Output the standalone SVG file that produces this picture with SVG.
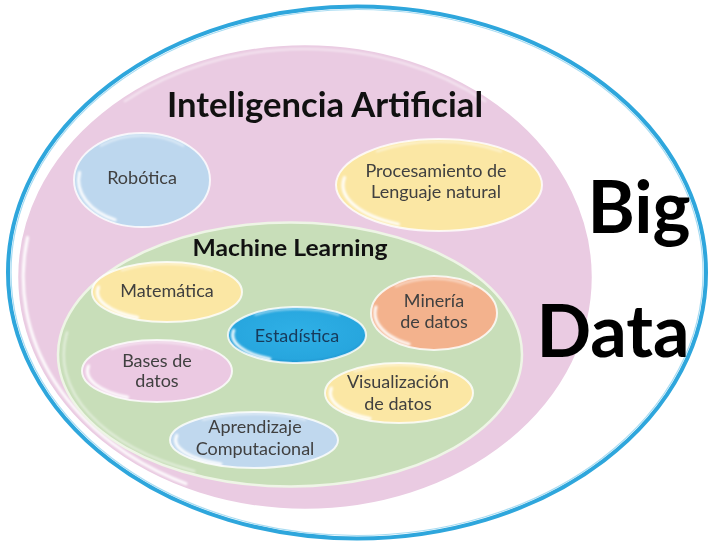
<svg xmlns="http://www.w3.org/2000/svg" xmlns:xlink="http://www.w3.org/1999/xlink" width="713" height="543" viewBox="0 0 713 543">
  <style>
    .lbl { font-family: Lato, "Open Sans", "Liberation Sans", sans-serif; font-size: 18px; fill: #404040; text-anchor: middle; }
    .ttl { font-family: Lato, "Open Sans", "Liberation Sans", sans-serif; font-weight: 700; fill: #111; text-anchor: middle; }
    .big { font-family: Lato, "Open Sans", "Liberation Sans", sans-serif; font-weight: 700; font-size: 72px; fill: #000; text-anchor: middle; }
    .rim { stroke: #ffffff; stroke-opacity: 0.8; stroke-width: 2; }
    .hl { fill: none; stroke: #ffffff; stroke-width: 3; stroke-linecap: round; stroke-opacity: 0.95; }
    .hl2 { fill: none; stroke: #ffffff; stroke-width: 2; stroke-linecap: round; stroke-opacity: 0.55; }
  </style>
  <defs>
    <filter id="soft" x="-20%" y="-20%" width="140%" height="140%">
      <feGaussianBlur stdDeviation="0.8"/>
    </filter>
    <path id="arcL" d="M -0.372 0.798 A 0.88 0.88 0 0 1 -0.867 -0.153" vector-effect="non-scaling-stroke"/>
    <path id="arcT" d="M -0.58 -0.70 A 0.91 0.91 0 0 1 0.58 -0.70" vector-effect="non-scaling-stroke"/>
    <radialGradient id="gEst" cx="0.5" cy="0.45" r="0.6">
      <stop offset="0" stop-color="#2fb0e6"/>
      <stop offset="0.8" stop-color="#27a6de"/>
      <stop offset="1" stop-color="#1b8ac6"/>
    </radialGradient>
  </defs>

  <rect width="713" height="543" fill="#ffffff"/>

  <g id="big-data-frame">
    <ellipse cx="357" cy="272.5" rx="349" ry="266" fill="#ffffff" stroke="#2ea6dc" stroke-width="4"/>
    <ellipse cx="357" cy="272.5" rx="346" ry="263" fill="none" stroke="#a8dcf2" stroke-width="1.2"/>
  </g>

  <g id="inteligencia-artificial">
    <ellipse cx="305" cy="277" rx="288" ry="233" fill="#eacbe2" stroke="#ffffff" stroke-width="2.5"/>
    <g filter="url(#soft)">
      <use href="#arcL" class="hl" transform="translate(305 277) scale(320 259)"/>
      <use href="#arcT" class="hl2" transform="translate(305 277) scale(311 251)"/>
    </g>
    <text class="ttl" x="325" y="117" font-size="35" textLength="316" lengthAdjust="spacingAndGlyphs">Inteligencia Artificial</text>
  </g>

  <g id="robotica">
    <ellipse class="rim" cx="142" cy="180" rx="68" ry="47" fill="#bdd7ee"/>
    <g filter="url(#soft)">
      <use href="#arcL" class="hl" transform="translate(142 180) scale(72 50)"/>
      <use href="#arcT" class="hl2" transform="translate(142 180) scale(71 49)"/>
    </g>
    <text class="lbl" x="142" y="184">Robótica</text>
  </g>

  <g id="procesamiento">
    <ellipse class="rim" cx="439" cy="185" rx="103" ry="46" fill="#fbe7a4"/>
    <g filter="url(#soft)">
      <use href="#arcL" class="hl" transform="translate(439 185) scale(109 49)"/>
      <use href="#arcT" class="hl2" transform="translate(439 185) scale(107 48)"/>
    </g>
    <text class="lbl" x="436" y="177">Procesamiento de</text>
    <text class="lbl" x="436" y="198">Lenguaje natural</text>
  </g>

  <g id="machine-learning">
    <ellipse cx="290" cy="354.5" rx="232" ry="132" fill="#c8deb9" stroke="#eef5e6" stroke-width="2.5"/>
    <g filter="url(#soft)">
      <use href="#arcL" class="hl2" transform="translate(290 354.5) scale(257 146)"/>
    </g>
    <text class="ttl" x="290" y="256" font-size="23" textLength="195" lengthAdjust="spacingAndGlyphs">Machine Learning</text>
  </g>

  <g id="matematica">
    <ellipse class="rim" cx="167" cy="292" rx="75" ry="30" fill="#fbe7a4"/>
    <g filter="url(#soft)">
      <use href="#arcL" class="hl" transform="translate(167 292) scale(79 32)"/>
      <use href="#arcT" class="hl2" transform="translate(167 292) scale(78 31)"/>
    </g>
    <text class="lbl" x="167" y="297">Matemática</text>
  </g>

  <g id="estadistica">
    <ellipse class="rim" cx="297" cy="335" rx="69" ry="28" fill="url(#gEst)" stroke-opacity="0.4"/>
    <g filter="url(#soft)">
      <use href="#arcL" class="hl" transform="translate(297 335) scale(73 30)"/>
      <use href="#arcT" class="hl2" transform="translate(297 335) scale(72 29)"/>
    </g>
    <text class="lbl" x="297" y="342" style="fill:#173a5a">Estadística</text>
  </g>

  <g id="mineria">
    <ellipse class="rim" cx="434" cy="313" rx="63" ry="37" fill="#f3b28d"/>
    <g filter="url(#soft)">
      <use href="#arcL" class="hl" transform="translate(434 313) scale(67 39)"/>
      <use href="#arcT" class="hl2" transform="translate(434 313) scale(66 38)"/>
    </g>
    <text class="lbl" x="434" y="307">Minería</text>
    <text class="lbl" x="434" y="328">de datos</text>
  </g>

  <g id="bases-de-datos">
    <ellipse class="rim" cx="157" cy="371" rx="75" ry="31" fill="#ebc9e2"/>
    <g filter="url(#soft)">
      <use href="#arcL" class="hl" transform="translate(157 371) scale(79 33)"/>
      <use href="#arcT" class="hl2" transform="translate(157 371) scale(78 32)"/>
    </g>
    <text class="lbl" x="157" y="367">Bases de</text>
    <text class="lbl" x="157" y="387">datos</text>
  </g>

  <g id="visualizacion">
    <ellipse class="rim" cx="399" cy="393" rx="74" ry="30" fill="#fbe7a4"/>
    <g filter="url(#soft)">
      <use href="#arcL" class="hl" transform="translate(399 393) scale(78 32)"/>
      <use href="#arcT" class="hl2" transform="translate(399 393) scale(77 31)"/>
    </g>
    <text class="lbl" x="398" y="388">Visualización</text>
    <text class="lbl" x="398" y="410">de datos</text>
  </g>

  <g id="aprendizaje">
    <ellipse class="rim" cx="254" cy="440" rx="84" ry="28" fill="#c0d8ee"/>
    <g filter="url(#soft)">
      <use href="#arcL" class="hl" transform="translate(254 440) scale(89 30)"/>
      <use href="#arcT" class="hl2" transform="translate(254 440) scale(88 29)"/>
    </g>
    <text class="lbl" x="255" y="433">Aprendizaje</text>
    <text class="lbl" x="255" y="455">Computacional</text>
  </g>

  <g id="big-data-label">
    <text class="big" x="639" y="233">Big</text>
    <text class="big" x="613" y="357">Data</text>
  </g>

  <g id="connectors"></g>
</svg>
